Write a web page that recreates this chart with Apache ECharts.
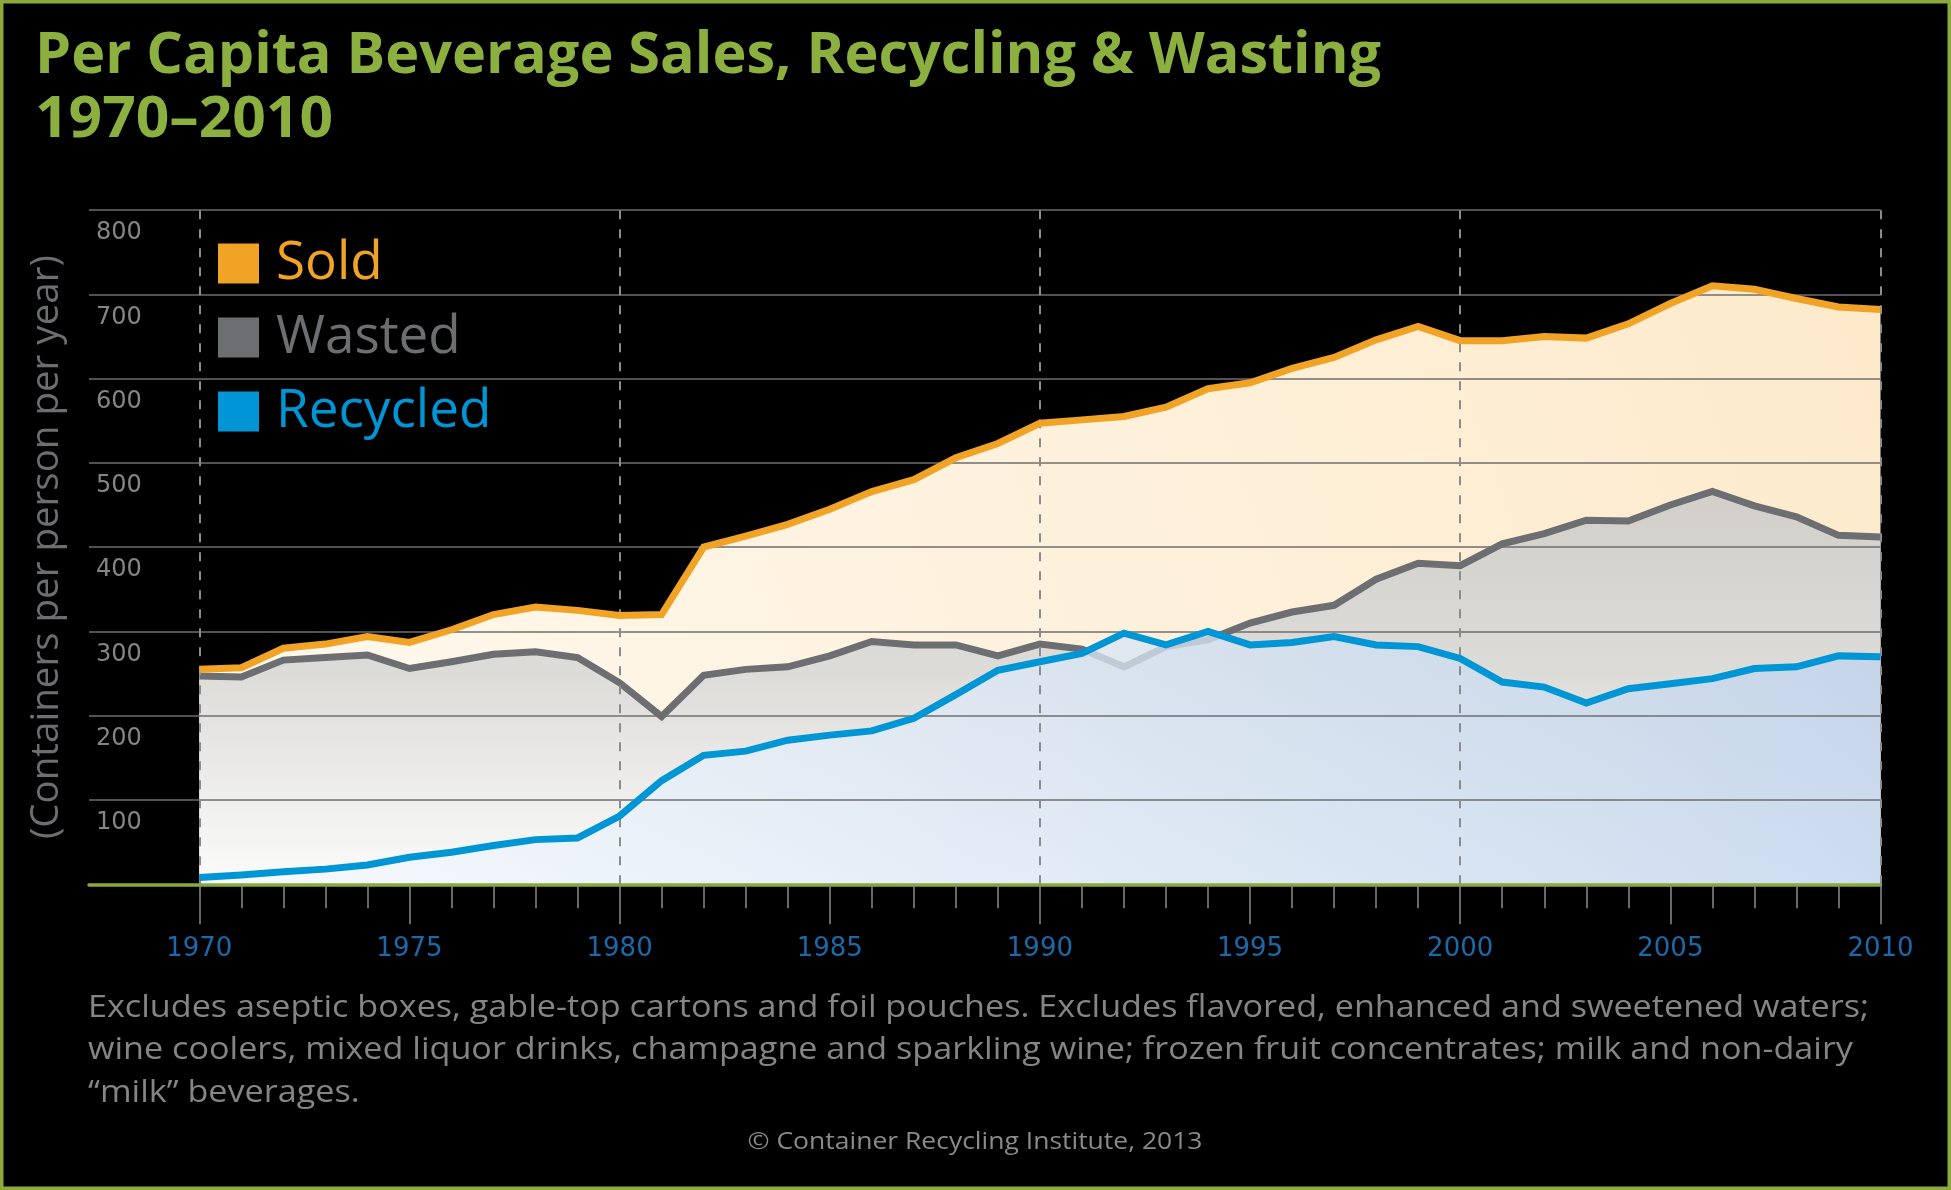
<!DOCTYPE html>
<html>
<head>
<meta charset="utf-8">
<script src="https://cdn.jsdelivr.net/npm/echarts@6/dist/echarts.min.js"></script>
<style>
html,body{margin:0;padding:0;background:#000;}
#c{width:1951px;height:1190px;}
</style>
</head>
<body>
<div id="c"></div>
<script>
// ---- data ----
const years = [1970,1971,1972,1973,1974,1975,1976,1977,1978,1979,
               1980,1981,1982,1983,1984,1985,1986,1987,1988,1989,
               1990,1991,1992,1993,1994,1995,1996,1997,1998,1999,
               2000,2001,2002,2003,2004,2005,2006,2007,2008,2009,2010];
const sold = [255,257,280,285,294,287,302,320,329,325,
              319,320,400,413,427,445,466,480,506,523,
              547,551,555,566,588,595,612,625,646,662,
              645,645,650,648,665,689,710,706,695,685,682];
const wasted = [247,246,266,269,272,256,264,273,276,269,
                239,199,248,255,258,271,288,284,284,271,
                285,279,258,282,290,310,323,331,362,381,
                378,404,416,432,431,450,466,449,436,414,412];
const recycled = [8,11,15,18,23,32,38,46,53,55,
                  81,123,153,158,171,177,182,197,225,254,
                  264,274,298,284,300,284,287,294,284,282,
                  268,240,234,215,232,238,244,256,258,271,270];
const xLabelYears = [1970,1975,1980,1985,1990,1995,2000,2005,2010];
const decadeYears = [1970,1980,1990,2000,2010];
const yMin = 0, yMax = 800, yStep = 100;
const seriesNames = ['Sold','Wasted','Recycled'];
const titleLines = ['Per Capita Beverage Sales, Recycling & Wasting', '1970\u20132010'];
const noteLines = [
  'Excludes aseptic boxes, gable-top cartons and foil pouches. Excludes flavored, enhanced and sweetened waters;',
  'wine coolers, mixed liquor drinks, champagne and sparkling wine; frozen fruit concentrates; milk and non-dairy',
  '\u201cmilk\u201d beverages.'
];
const creditText = '\u00a9 Container Recycling Institute, 2013';
const yAxisTitle = '(Containers per person per year)';

// ---- styling ----
const C_SOLD = '#f0a325', C_WASTED = '#6d6e71', C_REC = '#0096d6';
const C_GREEN = '#8cb03f';
const FONT = '"Open Sans", "DejaVu Sans", sans-serif';
const NUMFONT = '"DejaVu Sans", "Open Sans", sans-serif';

const pairs = arr => years.map((y, i) => [y, arr[i]]);

const mctx = document.createElement('canvas').getContext('2d');
function fitScale(text, font, target) {
  mctx.font = font;
  return target / mctx.measureText(text).width;
}
const titleFont = 'bold 58px ' + FONT;
const titleScale = fitScale(titleLines[0], titleFont, 1346);
const noteFont = '31px ' + FONT;
const noteScale = fitScale(noteLines[0], noteFont, 1781);
const creditFont = '24px ' + FONT;
const creditScale = fitScale(creditText, creditFont, 455);

const graphics = [
  { type: 'rect', silent: true, z: 10,
    shape: { x: 0, y: 0, width: 1951, height: 1190 },
    style: { fill: 'none', stroke: '#8aab3c', lineWidth: 7 } },
  { type: 'text', x: 35, y: 56, scaleX: titleScale, silent: true,
    style: { text: titleLines[0], font: titleFont, fill: C_GREEN, verticalAlign: 'middle', align: 'left' } },
  { type: 'text', x: 35, y: 120, scaleX: titleScale * 1.02, silent: true,
    style: { text: titleLines[1], font: titleFont, fill: C_GREEN, verticalAlign: 'middle', align: 'left' } },
  { type: 'text', x: 975, y: 1142, scaleX: creditScale, silent: true,
    style: { text: creditText, font: creditFont, fill: '#8a8a8a', verticalAlign: 'middle', align: 'center' } }
];
noteLines.forEach((t, i) => {
  graphics.push({ type: 'text', x: 88, y: 1008 + i * 42.5, scaleX: noteScale, silent: true,
    style: { text: t, font: noteFont, fill: '#858585', verticalAlign: 'middle', align: 'left' } });
});

const allYearTicks = years.slice();
const xMin = 2010 - 40 * (1880.5 - 89) / (1880.5 - 199.3);

const option = {
  backgroundColor: '#000',
  animation: false,
  grid: { left: 89, right: 70.5, top: 210, bottom: 305.7 },
  legend: {
    orient: 'vertical', left: 218, top: 237, padding: 0,
    itemWidth: 41, itemHeight: 40, itemGap: 21, icon: 'rect',
    selectedMode: false,
    itemStyle: { borderWidth: 0 },
    textStyle: { fontSize: 53, fontFamily: FONT, padding: [0, 0, 0, 12] },
    data: [
      { name: seriesNames[0], textStyle: { color: C_SOLD } },
      { name: seriesNames[1], textStyle: { color: C_WASTED } },
      { name: seriesNames[2], textStyle: { color: C_REC } }
    ]
  },
  xAxis: [
    { type: 'value', min: xMin, max: 2010, z: 4,
      axisLine: { show: true, lineStyle: { color: '#8aab3c', width: 3.5 } },
      axisTick: { show: true, customValues: allYearTicks, length: 24, lineStyle: { color: '#8a8a8a', width: 1.5 } },
      axisLabel: { show: true, customValues: xLabelYears, margin: 52, fontSize: 26, fontFamily: NUMFONT, color: '#1c68a8',
                   formatter: v => String(v) },
      splitLine: { show: false } },
    { type: 'value', min: xMin, max: 2010, position: 'bottom', z: 4,
      axisLine: { show: false },
      axisTick: { show: true, customValues: xLabelYears, length: 40, lineStyle: { color: '#8a8a8a', width: 1.5 } },
      axisLabel: { show: false },
      splitLine: { show: false } }
  ],
  yAxis: {
    type: 'value', min: yMin, max: yMax, interval: yStep, z: 1.6,
    name: yAxisTitle, nameLocation: 'middle', nameGap: 22, nameRotate: 90,
    nameTextStyle: { fontSize: 38.5, fontFamily: FONT, color: '#6d6e71' },
    axisLine: { show: false }, axisTick: { show: false },
    axisLabel: { inside: true, margin: 7, fontSize: 24, fontFamily: NUMFONT, color: '#858585',
                 verticalAlign: 'top', padding: [11, 0, 0, 0],
                 formatter: v => (v === 0 ? '' : String(v)) },
    splitLine: { show: true, lineStyle: { color: '#6e6e6e', width: 1.5 } }
  },
  series: [
    { name: seriesNames[0], type: 'line', data: pairs(sold), z: 1, color: C_SOLD,
      symbol: 'none', lineStyle: { width: 0 },
      areaStyle: { opacity: 1, color: { type: 'linear', x: 0, y: 1, x2: 1, y2: 0,
        colorStops: [{ offset: 0, color: '#fff9ef' }, { offset: 1, color: '#fdeacb' }] } },
      markLine: { silent: true, z: 2, symbol: ['none', 'none'], label: { show: false },
        lineStyle: { color: '#8c8c8c', width: 2, type: [9, 10] },
        emphasis: { disabled: true },
        data: decadeYears.map(y => ({ xAxis: y })) } },
    { name: seriesNames[1], type: 'line', data: pairs(wasted), z: 1.2, color: C_WASTED,
      symbol: 'none', lineStyle: { width: 7, color: C_WASTED, join: 'miter' },
      areaStyle: { opacity: 1, color: { type: 'linear', x: 0, y: 0, x2: 0, y2: 1,
        colorStops: [{ offset: 0, color: '#d2cfca' }, { offset: 0.45, color: '#dcdbd8' }, { offset: 1, color: '#fbfbfb' }] } } },
    { name: seriesNames[2], type: 'line', data: pairs(recycled), z: 1.4, color: C_REC,
      symbol: 'none', lineStyle: { width: 0 },
      areaStyle: { opacity: 1, color: { type: 'linear', x: 0, y: 1, x2: 1, y2: 0,
        colorStops: [{ offset: 0, color: 'rgba(246,250,255,0.75)' }, { offset: 1, color: 'rgba(192,212,236,0.8)' }] } } },
    { name: seriesNames[0], type: 'line', data: pairs(sold), z: 3, color: C_SOLD,
      symbol: 'none', lineStyle: { width: 7, color: C_SOLD, join: 'miter' } },
    { name: seriesNames[2], type: 'line', data: pairs(recycled), z: 3, color: C_REC,
      symbol: 'none', lineStyle: { width: 7, color: C_REC, join: 'miter' } }
  ],
  graphic: graphics
};

const chart = echarts.init(document.getElementById('c'), null, { renderer: 'canvas' });
chart.setOption(option);
</script>
</body>
</html>
